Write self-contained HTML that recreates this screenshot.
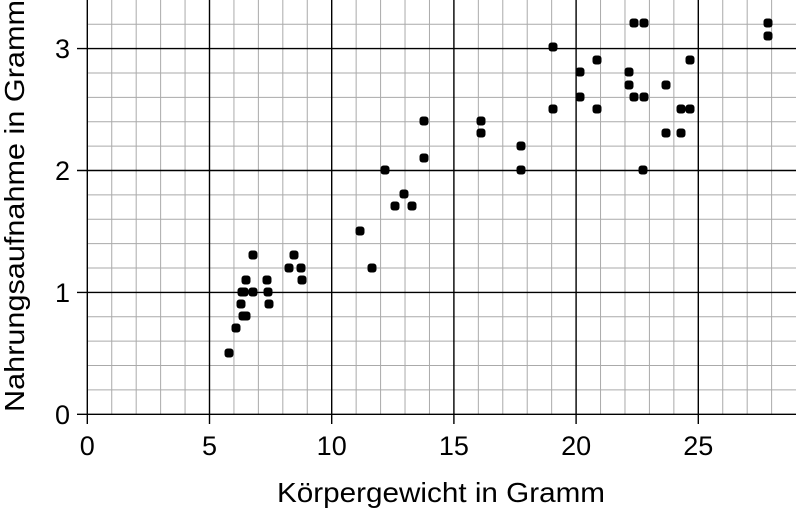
<!DOCTYPE html>
<html><head><meta charset="utf-8"><style>body{margin:0;background:#fff}svg{display:block}</style></head><body>
<svg width="796" height="512" xmlns="http://www.w3.org/2000/svg" font-family="Liberation Sans, sans-serif">
<path stroke="#aaa" stroke-width="1" fill="none" d="M111.74 0V414.3M136.18 0V414.3M160.62 0V414.3M185.06 0V414.3M233.94 0V414.3M258.38 0V414.3M282.82 0V414.3M307.26 0V414.3M356.14 0V414.3M380.58 0V414.3M405.02 0V414.3M429.46 0V414.3M478.34 0V414.3M502.78 0V414.3M527.22 0V414.3M551.66 0V414.3M600.54 0V414.3M624.98 0V414.3M649.42 0V414.3M673.86 0V414.3M722.74 0V414.3M747.18 0V414.3M771.62 0V414.3
M87.3 389.92H796M87.3 365.54H796M87.3 341.16H796M87.3 316.78H796M87.3 268.02H796M87.3 243.64H796M87.3 219.26H796M87.3 194.88H796M87.3 146.12H796M87.3 121.74H796M87.3 97.36H796M87.3 72.98H796M87.3 24.22H796"/>
<path stroke="#000" stroke-width="1.4" fill="none" d="M209.5 0V424M331.7 0V424M453.9 0V424M576.1 0V424M698.3 0V424M87.3 0V424M77 292.4H796M77 170.5H796M77 48.6H796M77 414.3H796"/>
<g font-size="27" text-anchor="end">
<text x="70" y="424">0</text><text x="70" y="302">1</text><text x="70" y="180">2</text><text x="70" y="58">3</text>
</g>
<g font-size="27" text-anchor="middle">
<text x="87.3" y="455">0</text><text x="209.5" y="455">5</text><text x="331.7" y="455">10</text><text x="453.9" y="455">15</text><text x="576.1" y="455">20</text><text x="698.3" y="455">25</text>
</g>
<g fill="#000">
<rect x="224.5" y="348.5" width="9" height="9" rx="3"/>
<rect x="231.5" y="323.5" width="9" height="9" rx="3"/>
<rect x="236.5" y="299.5" width="9" height="9" rx="3"/>
<rect x="237.5" y="287.5" width="9" height="9" rx="3"/>
<rect x="239.5" y="287.5" width="9" height="9" rx="3"/>
<rect x="238.5" y="311.5" width="9" height="9" rx="3"/>
<rect x="241.5" y="311.5" width="9" height="9" rx="3"/>
<rect x="241.5" y="275.5" width="9" height="9" rx="3"/>
<rect x="248.5" y="250.5" width="9" height="9" rx="3"/>
<rect x="248.5" y="287.5" width="9" height="9" rx="3"/>
<rect x="262.5" y="275.5" width="9" height="9" rx="3"/>
<rect x="263.5" y="287.5" width="9" height="9" rx="3"/>
<rect x="264.5" y="299.5" width="9" height="9" rx="3"/>
<rect x="284.5" y="263.5" width="9" height="9" rx="3"/>
<rect x="289.5" y="250.5" width="9" height="9" rx="3"/>
<rect x="296.5" y="263.5" width="9" height="9" rx="3"/>
<rect x="297.5" y="275.5" width="9" height="9" rx="3"/>
<rect x="355.5" y="226.5" width="9" height="9" rx="3"/>
<rect x="367.5" y="263.5" width="9" height="9" rx="3"/>
<rect x="380.5" y="165.5" width="9" height="9" rx="3"/>
<rect x="390.5" y="201.5" width="9" height="9" rx="3"/>
<rect x="399.5" y="189.5" width="9" height="9" rx="3"/>
<rect x="407.5" y="201.5" width="9" height="9" rx="3"/>
<rect x="419.5" y="116.5" width="9" height="9" rx="3"/>
<rect x="419.5" y="153.5" width="9" height="9" rx="3"/>
<rect x="476.5" y="116.5" width="9" height="9" rx="3"/>
<rect x="476.5" y="128.5" width="9" height="9" rx="3"/>
<rect x="516.5" y="141.5" width="9" height="9" rx="3"/>
<rect x="516.5" y="165.5" width="9" height="9" rx="3"/>
<rect x="548.5" y="42.5" width="9" height="9" rx="3"/>
<rect x="548.5" y="104.5" width="9" height="9" rx="3"/>
<rect x="575.5" y="67.5" width="9" height="9" rx="3"/>
<rect x="575.5" y="92.5" width="9" height="9" rx="3"/>
<rect x="592.5" y="55.5" width="9" height="9" rx="3"/>
<rect x="592.5" y="104.5" width="9" height="9" rx="3"/>
<rect x="624.5" y="67.5" width="9" height="9" rx="3"/>
<rect x="624.5" y="80.5" width="9" height="9" rx="3"/>
<rect x="629.5" y="18.5" width="9" height="9" rx="3"/>
<rect x="629.5" y="92.5" width="9" height="9" rx="3"/>
<rect x="639.5" y="18.5" width="9" height="9" rx="3"/>
<rect x="639.5" y="92.5" width="9" height="9" rx="3"/>
<rect x="638.5" y="165.5" width="9" height="9" rx="3"/>
<rect x="661.5" y="80.5" width="9" height="9" rx="3"/>
<rect x="661.5" y="128.5" width="9" height="9" rx="3"/>
<rect x="676.5" y="104.5" width="9" height="9" rx="3"/>
<rect x="676.5" y="128.5" width="9" height="9" rx="3"/>
<rect x="685.5" y="55.5" width="9" height="9" rx="3"/>
<rect x="685.5" y="104.5" width="9" height="9" rx="3"/>
<rect x="763.5" y="18.5" width="9" height="9" rx="3"/>
<rect x="763.5" y="31.5" width="9" height="9" rx="3"/>
</g>
<text x="441" y="502" font-size="28" text-anchor="middle" textLength="328" lengthAdjust="spacingAndGlyphs">Körpergewicht in Gramm</text>
<text transform="translate(24,206) rotate(-90)" font-size="28" text-anchor="middle" textLength="412" lengthAdjust="spacingAndGlyphs">Nahrungsaufnahme in Gramm</text>
</svg>
</body></html>
